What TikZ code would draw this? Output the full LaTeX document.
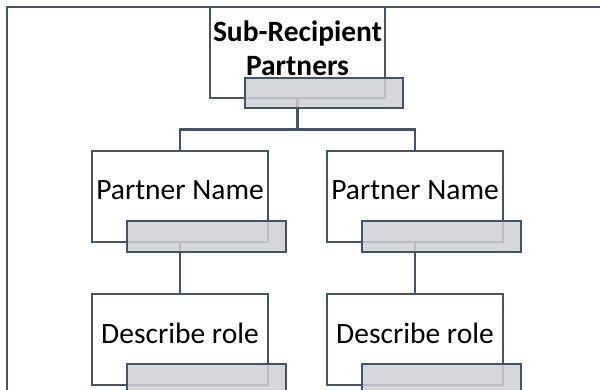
\documentclass[tikz,border=0pt]{standalone}
\usepackage{fontspec}
\setmainfont{Carlito}
\usepackage{tikz}
\usetikzlibrary{positioning, calc}
\definecolor{dslate}{HTML}{44546A}
\definecolor{fgray}{HTML}{CED0D4}

\begin{document}
\begin{tikzpicture}[x=1pt, y=-1pt, line join=miter, line width=2.6pt,
  rolebox/.style={draw=dslate, fill=white, minimum width=176pt, minimum height=91pt, inner sep=0pt, font=\fontsize{29.5pt}{34pt}\selectfont, text height=20pt, text depth=13pt},
  tagbox/.style={draw=dslate, fill=fgray, fill opacity=.85, minimum width=159pt, minimum height=31pt, inner sep=0pt},
  link/.style={draw=dslate}]

\useasboundingbox (0,0) rectangle (600,390);
\clip (0,0) rectangle (600,390);

% frame
\draw[dslate] (7,400)--(7,7)--(610,7);

% boxes
\node[rolebox, minimum width=175pt, align=center, font=\bfseries\fontsize{29.5pt}{34pt}\selectfont, text height=58pt, text depth=11pt] (src) at (297.5,52.5) {Sub-Recipient\\Partners};
\node[rolebox] (pn1) at (180,196.5) {Partner Name};
\node[rolebox] (pn2) at (415,196.5) {Partner Name};
\node[rolebox] (dr1) at (180,339.5) {Describe role};
\node[rolebox] (dr2) at (415,339.5) {Describe role};

% connectors
\draw[link] (src.south) --++(0,-30pt) coordinate (split);
\draw[link] (split) -| (pn1.north);
\draw[link] (split) -| (pn2.north);
\draw[link] (pn1.south) -- (dr1.north);
\draw[link] (pn2.south) -- (dr2.north);

% grey tabs
\node[tagbox, minimum width=158pt, minimum height=30pt, anchor=south east] (srctab) at ([xshift=18pt,yshift=-10pt]src.south east) {};
\foreach \n in {pn1,pn2,dr1,dr2}
  \node[tagbox, anchor=south east] (\n tab) at ([xshift=18pt,yshift=-10pt]\n.south east) {};

\end{tikzpicture}
\end{document}
